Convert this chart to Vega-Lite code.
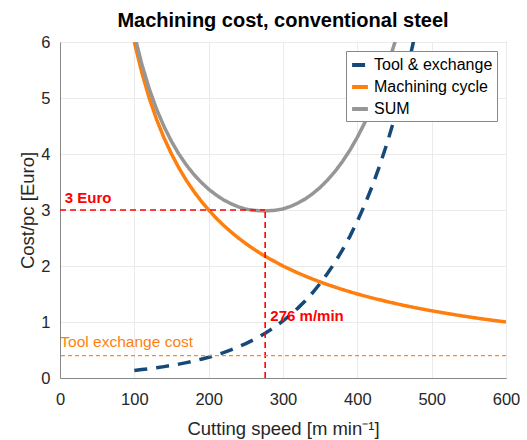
{
  "$schema": "https://vega.github.io/schema/vega-lite/v6.json",
  "width": 446,
  "height": 336,
  "autosize": "none",
  "padding": {"left": 60, "top": 42, "right": 21, "bottom": 62},
  "background": "white",
  "title": {"text": "Machining cost, conventional steel", "fontSize": 20, "font": "Liberation Sans", "fontWeight": "bold", "color": "#000000", "anchor": "middle", "offset": 3},
  "config": {
    "font": "Liberation Sans",
    "view": {"stroke": "#888888", "strokeWidth": 1},
    "axis": {"gridColor": "#ebebeb", "domainColor": "#888888", "labelColor": "#262626", "titleColor": "#262626", "labelFontSize": 16.5, "titleFontSize": 18.5, "titleFontWeight": "normal", "ticks": false, "labelFont": "Liberation Sans", "titleFont": "Liberation Sans"}
  },
  "datasets": {
    "curves": [
      {"v": 100, "cost": 0.135, "series": "Tool & exchange"},
      {"v": 110, "cost": 0.150, "series": "Tool & exchange"},
      {"v": 120, "cost": 0.166, "series": "Tool & exchange"},
      {"v": 130, "cost": 0.183, "series": "Tool & exchange"},
      {"v": 140, "cost": 0.203, "series": "Tool & exchange"},
      {"v": 150, "cost": 0.224, "series": "Tool & exchange"},
      {"v": 160, "cost": 0.248, "series": "Tool & exchange"},
      {"v": 170, "cost": 0.274, "series": "Tool & exchange"},
      {"v": 180, "cost": 0.303, "series": "Tool & exchange"},
      {"v": 190, "cost": 0.336, "series": "Tool & exchange"},
      {"v": 200, "cost": 0.371, "series": "Tool & exchange"},
      {"v": 210, "cost": 0.411, "series": "Tool & exchange"},
      {"v": 220, "cost": 0.454, "series": "Tool & exchange"},
      {"v": 230, "cost": 0.503, "series": "Tool & exchange"},
      {"v": 240, "cost": 0.556, "series": "Tool & exchange"},
      {"v": 250, "cost": 0.615, "series": "Tool & exchange"},
      {"v": 260, "cost": 0.681, "series": "Tool & exchange"},
      {"v": 270, "cost": 0.753, "series": "Tool & exchange"},
      {"v": 276, "cost": 0.800, "series": "Tool & exchange"},
      {"v": 280, "cost": 0.833, "series": "Tool & exchange"},
      {"v": 290, "cost": 0.922, "series": "Tool & exchange"},
      {"v": 300, "cost": 1.019, "series": "Tool & exchange"},
      {"v": 310, "cost": 1.128, "series": "Tool & exchange"},
      {"v": 320, "cost": 1.248, "series": "Tool & exchange"},
      {"v": 330, "cost": 1.380, "series": "Tool & exchange"},
      {"v": 340, "cost": 1.527, "series": "Tool & exchange"},
      {"v": 350, "cost": 1.689, "series": "Tool & exchange"},
      {"v": 360, "cost": 1.869, "series": "Tool & exchange"},
      {"v": 370, "cost": 2.067, "series": "Tool & exchange"},
      {"v": 380, "cost": 2.287, "series": "Tool & exchange"},
      {"v": 390, "cost": 2.530, "series": "Tool & exchange"},
      {"v": 400, "cost": 2.799, "series": "Tool & exchange"},
      {"v": 410, "cost": 3.096, "series": "Tool & exchange"},
      {"v": 420, "cost": 3.425, "series": "Tool & exchange"},
      {"v": 430, "cost": 3.790, "series": "Tool & exchange"},
      {"v": 440, "cost": 4.192, "series": "Tool & exchange"},
      {"v": 450, "cost": 4.638, "series": "Tool & exchange"},
      {"v": 460, "cost": 5.131, "series": "Tool & exchange"},
      {"v": 470, "cost": 5.676, "series": "Tool & exchange"},
      {"v": 480, "cost": 6.279, "series": "Tool & exchange"},
      {"v": 100, "cost": 6.000, "series": "Machining cycle"},
      {"v": 110, "cost": 5.455, "series": "Machining cycle"},
      {"v": 120, "cost": 5.000, "series": "Machining cycle"},
      {"v": 130, "cost": 4.615, "series": "Machining cycle"},
      {"v": 140, "cost": 4.286, "series": "Machining cycle"},
      {"v": 150, "cost": 4.000, "series": "Machining cycle"},
      {"v": 160, "cost": 3.750, "series": "Machining cycle"},
      {"v": 170, "cost": 3.529, "series": "Machining cycle"},
      {"v": 180, "cost": 3.333, "series": "Machining cycle"},
      {"v": 190, "cost": 3.158, "series": "Machining cycle"},
      {"v": 200, "cost": 3.000, "series": "Machining cycle"},
      {"v": 210, "cost": 2.857, "series": "Machining cycle"},
      {"v": 220, "cost": 2.727, "series": "Machining cycle"},
      {"v": 230, "cost": 2.609, "series": "Machining cycle"},
      {"v": 240, "cost": 2.500, "series": "Machining cycle"},
      {"v": 250, "cost": 2.400, "series": "Machining cycle"},
      {"v": 260, "cost": 2.308, "series": "Machining cycle"},
      {"v": 270, "cost": 2.222, "series": "Machining cycle"},
      {"v": 280, "cost": 2.143, "series": "Machining cycle"},
      {"v": 300, "cost": 2.000, "series": "Machining cycle"},
      {"v": 320, "cost": 1.875, "series": "Machining cycle"},
      {"v": 340, "cost": 1.765, "series": "Machining cycle"},
      {"v": 360, "cost": 1.667, "series": "Machining cycle"},
      {"v": 380, "cost": 1.579, "series": "Machining cycle"},
      {"v": 400, "cost": 1.500, "series": "Machining cycle"},
      {"v": 420, "cost": 1.429, "series": "Machining cycle"},
      {"v": 440, "cost": 1.364, "series": "Machining cycle"},
      {"v": 460, "cost": 1.304, "series": "Machining cycle"},
      {"v": 480, "cost": 1.250, "series": "Machining cycle"},
      {"v": 500, "cost": 1.200, "series": "Machining cycle"},
      {"v": 520, "cost": 1.154, "series": "Machining cycle"},
      {"v": 540, "cost": 1.111, "series": "Machining cycle"},
      {"v": 560, "cost": 1.071, "series": "Machining cycle"},
      {"v": 580, "cost": 1.034, "series": "Machining cycle"},
      {"v": 600, "cost": 1.000, "series": "Machining cycle"},
      {"v": 100, "cost": 6.135, "series": "SUM"},
      {"v": 110, "cost": 5.605, "series": "SUM"},
      {"v": 120, "cost": 5.166, "series": "SUM"},
      {"v": 130, "cost": 4.798, "series": "SUM"},
      {"v": 140, "cost": 4.489, "series": "SUM"},
      {"v": 150, "cost": 4.224, "series": "SUM"},
      {"v": 160, "cost": 3.998, "series": "SUM"},
      {"v": 170, "cost": 3.803, "series": "SUM"},
      {"v": 180, "cost": 3.636, "series": "SUM"},
      {"v": 190, "cost": 3.494, "series": "SUM"},
      {"v": 200, "cost": 3.371, "series": "SUM"},
      {"v": 210, "cost": 3.268, "series": "SUM"},
      {"v": 220, "cost": 3.181, "series": "SUM"},
      {"v": 230, "cost": 3.112, "series": "SUM"},
      {"v": 240, "cost": 3.056, "series": "SUM"},
      {"v": 250, "cost": 3.015, "series": "SUM"},
      {"v": 260, "cost": 2.995, "series": "SUM"},
      {"v": 270, "cost": 2.985, "series": "SUM"},
      {"v": 276, "cost": 2.984, "series": "SUM"},
      {"v": 280, "cost": 2.986, "series": "SUM"},
      {"v": 290, "cost": 2.995, "series": "SUM"},
      {"v": 300, "cost": 3.019, "series": "SUM"},
      {"v": 310, "cost": 3.063, "series": "SUM"},
      {"v": 320, "cost": 3.123, "series": "SUM"},
      {"v": 330, "cost": 3.198, "series": "SUM"},
      {"v": 340, "cost": 3.292, "series": "SUM"},
      {"v": 350, "cost": 3.403, "series": "SUM"},
      {"v": 360, "cost": 3.536, "series": "SUM"},
      {"v": 370, "cost": 3.689, "series": "SUM"},
      {"v": 380, "cost": 3.866, "series": "SUM"},
      {"v": 390, "cost": 4.068, "series": "SUM"},
      {"v": 400, "cost": 4.299, "series": "SUM"},
      {"v": 410, "cost": 4.559, "series": "SUM"},
      {"v": 420, "cost": 4.854, "series": "SUM"},
      {"v": 430, "cost": 5.185, "series": "SUM"},
      {"v": 440, "cost": 5.556, "series": "SUM"},
      {"v": 450, "cost": 5.971, "series": "SUM"},
      {"v": 460, "cost": 6.435, "series": "SUM"}
    ],
    "labels": [
      {"v": 6.5, "cost": 3.22, "text": "3 Euro", "kind": "red"},
      {"v": 283, "cost": 1.1, "text": "276 m/min", "kind": "red"},
      {"v": 0.5, "cost": 0.65, "text": "Tool exchange cost", "kind": "orange"}
    ]
  },
  "layer": [
    {
      "data": {"name": "curves"},
      "mark": {"type": "line", "clip": true, "strokeWidth": 3.5},
      "encoding": {
        "x": {"field": "v", "type": "quantitative", "scale": {"domain": [0, 600], "nice": false}, "axis": {"values": [0, 100, 200, 300, 400, 500, 600], "format": "d", "title": "Cutting speed [m min⁻¹]", "labelFlush": false, "labelPadding": 13, "titlePadding": 12}},
        "y": {"field": "cost", "type": "quantitative", "scale": {"domain": [0, 6], "nice": false}, "axis": {"values": [0, 1, 2, 3, 4, 5, 6], "format": "d", "title": "Cost/pc [Euro]", "labelPadding": 10, "titlePadding": 3}},
        "color": {"field": "series", "type": "nominal", "sort": ["Tool & exchange", "Machining cycle", "SUM"],
          "scale": {"domain": ["Tool & exchange", "Machining cycle", "SUM"], "range": ["#15497a", "#ff7f0e", "#969696"]},
          "legend": {"title": null, "orient": "top-right", "offset": 9, "fillColor": "white", "strokeColor": "#888888", "padding": 4, "labelFontSize": 16, "labelColor": "#000000", "symbolType": "stroke", "symbolStrokeWidth": 4, "symbolSize": 250, "rowPadding": 4, "labelOffset": 4}},
        "strokeDash": {"field": "series", "type": "nominal", "scale": {"domain": ["Tool & exchange", "Machining cycle", "SUM"], "range": [[13, 9], [1, 0], [1, 0]]}, "legend": null},
        "order": {"field": "v"}
      }
    },
    {
      "data": {"values": [{"v": 0, "v2": 276, "cost": 3}]},
      "mark": {"type": "rule", "color": "#ff0000", "strokeWidth": 1.6, "strokeDash": [6, 4]},
      "encoding": {"x": {"field": "v", "type": "quantitative"}, "x2": {"field": "v2"}, "y": {"field": "cost", "type": "quantitative"}}
    },
    {
      "data": {"values": [{"v": 276, "cost": 0, "cost2": 3}]},
      "mark": {"type": "rule", "color": "#ff0000", "strokeWidth": 1.6, "strokeDash": [6, 4]},
      "encoding": {"x": {"field": "v", "type": "quantitative"}, "y": {"field": "cost", "type": "quantitative"}, "y2": {"field": "cost2"}}
    },
    {
      "data": {"values": [{"cost": 0.4}]},
      "mark": {"type": "rule", "color": "#ff8c1a", "strokeWidth": 1.2, "strokeDash": [4, 3]},
      "encoding": {"y": {"field": "cost", "type": "quantitative"}}
    },
    {
      "data": {"name": "labels"},
      "transform": [{"filter": "datum.kind == 'red'"}],
      "mark": {"type": "text", "align": "left", "baseline": "middle", "color": "#ff0000", "fontWeight": "bold", "fontSize": 15},
      "encoding": {"x": {"field": "v", "type": "quantitative"}, "y": {"field": "cost", "type": "quantitative"}, "text": {"field": "text"}}
    },
    {
      "data": {"name": "labels"},
      "transform": [{"filter": "datum.kind == 'orange'"}],
      "mark": {"type": "text", "align": "left", "baseline": "middle", "color": "#ff7f0e", "fontSize": 15.5},
      "encoding": {"x": {"field": "v", "type": "quantitative"}, "y": {"field": "cost", "type": "quantitative"}, "text": {"field": "text"}}
    }
  ]
}
